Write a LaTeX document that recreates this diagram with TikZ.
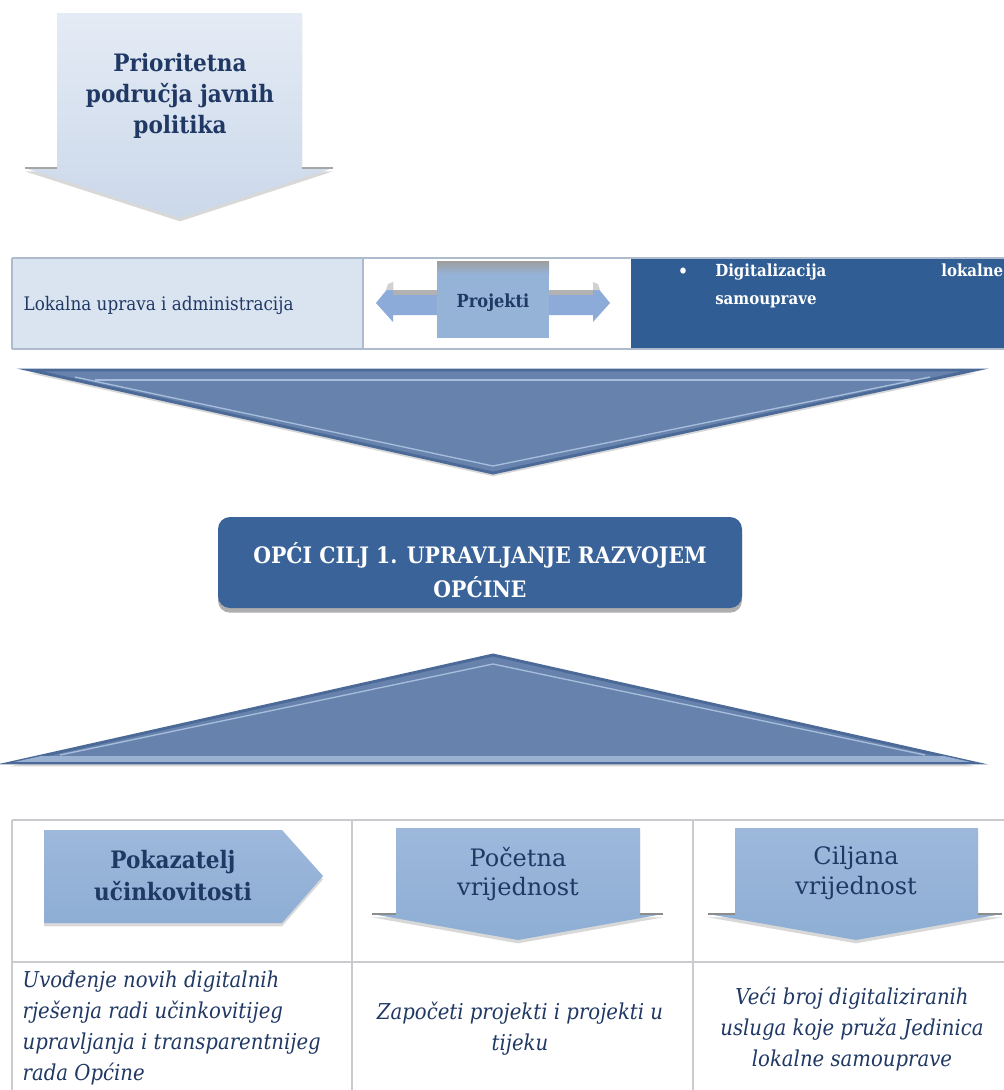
\documentclass[tikz,border=0pt]{standalone}
\usepackage{fontspec}
\setmainfont{DejaVu Serif}[FakeStretch=0.9]
\newfontfamily\widefont{DejaVu Serif}
\usetikzlibrary{shadows}
\definecolor{navy}{HTML}{203864}
\definecolor{paletop}{HTML}{E4EBF5}
\definecolor{palebot}{HTML}{CBD8EA}
\definecolor{bandleft}{HTML}{DAE4F0}
\definecolor{cellblue}{HTML}{305D93}
\definecolor{projbox}{HTML}{95B3D7}
\definecolor{projarrow}{HTML}{8DABD8}
\definecolor{chevfill}{HTML}{6782AC}
\definecolor{chevedge}{HTML}{4B6A97}
\definecolor{chevlight}{HTML}{A7BDDC}
\definecolor{goalblue}{HTML}{3A6399}
\definecolor{hdrtop}{HTML}{9DB8DB}
\definecolor{hdrbot}{HTML}{8EAED4}
\definecolor{tline}{HTML}{C9CBCE}
\definecolor{bandline}{HTML}{AEBBCC}
\tikzset{
  softshadow/.style={drop shadow={opacity=0.25, shadow xshift=0pt, shadow yshift=-2.5pt, fill=black!60}},
  hdrarrow/.style={top color=hdrtop, bottom color=hdrbot, softshadow},
  chev/.style={fill=chevfill, draw=chevedge, line width=2.2pt, line join=miter, softshadow},
  tabline/.style={draw=tline, line width=1.1pt},
  hdrtext/.style={text=navy, align=center, font=\fontsize{18}{24}\selectfont},
  bodytext/.style={text=navy, font=\fontsize{16.4}{23.2}\selectfont\itshape},
}
\begin{document}
\begin{tikzpicture}[x=0.75pt,y=-0.75pt]
\useasboundingbox (0,0) rectangle (1004,1090);
\fill[white] (0,0) rectangle (1004,1090);

% ---------- top arrow ----------
\path[top color=paletop, bottom color=palebot, softshadow]
  (57,13) -- (302,13) -- (302,168) -- (333,168) -- (180,218) -- (25,168) -- (57,168) -- cycle;
\draw[black!35, line width=1.5pt] (25,168) -- (57,168);
\draw[black!35, line width=1.5pt] (302,168) -- (333,168);
\node[text=navy, align=center, font=\fontsize{18}{23}\selectfont\bfseries] (prio) at (180,96)
  {Prioritetna\\područja javnih\\politika};

% ---------- band ----------
\fill[bandleft] (12,258) rectangle (363,349);
\fill[cellblue] (631,258) rectangle (1004,349);
\draw[bandline, line width=1.6pt] (12,258) -- (1004,258);
\draw[bandline, line width=1.6pt] (12,349) -- (1004,349);
\draw[bandline, line width=1pt] (12,258) -- (12,349);
\draw[bandline, line width=1pt] (363,258) -- (363,349);
\node[text=navy, anchor=west, font=\fontsize{14}{17}\selectfont] (lok) at (19,305)
  {Lokalna uprava i administracija};

% projekti double arrow
\fill[projarrow] (376,303) -- (393,282) -- (393,290) -- (437,290) -- (437,315) -- (393,315) -- (393,322) -- cycle;
\fill[projarrow] (610,303) -- (593,282) -- (593,290) -- (549,290) -- (549,315) -- (593,315) -- (593,322) -- cycle;
\fill[black!30] (393,290) rectangle (437,295);
\fill[black!30] (549,290) rectangle (593,295);
\fill[black!18] (388,284) -- (393,282) -- (393,290) -- (386,290) -- cycle;
\fill[black!18] (598,284) -- (593,282) -- (593,290) -- (600,290) -- cycle;
\fill[projbox] (437,261) rectangle (549,338);
\shade[top color=black!38, bottom color=projbox] (437,261) rectangle (549,274);
\node[text=navy, font=\fontsize{13.5}{16}\selectfont\bfseries] (proj) at (493,303) {Projekti};

% right cell
\node[text=white, font=\fontsize{13}{16}\selectfont\bfseries] (bul) at (683,273) {•};
\node[text=white, anchor=north west, inner sep=0pt, font=\fontsize{12.5}{21}\selectfont\bfseries] (digi) at (715,264)
  {\parbox{216pt}{\hspace{0pt}Digitalizacija lokalne\linebreak samouprave}};

% ---------- chevron down ----------
\path[chev] (30,370) -- (975,370) -- (493,473) -- cycle;
\draw[chevlight, line width=1pt] (95,380) -- (910,380);
\draw[chevlight, line width=1pt] (75,377) -- (493,466) -- (930,377);

% ---------- goal box ----------
\path[fill=goalblue, rounded corners=9pt, drop shadow={opacity=0.45, shadow xshift=0pt, shadow yshift=-3.5pt, fill=black!70}]
  (218,517) rectangle (742,608);
\node[text=white, align=center, font=\fontsize{17}{25}\selectfont\bfseries] (goal) at (480,570)
  {OPĆI CILJ 1. UPRAVLJANJE RAZVOJEM\\OPĆINE};

% ---------- triangle up ----------
\path[chev] (10,763) -- (493,655) -- (975,763) -- cycle;
\draw[chevlight, line width=1pt] (60,755) -- (493,664) -- (925,755);
\begin{scope}
  \clip (10,763) -- (493,655) -- (975,763) -- cycle;
  \fill[chevlight!80!chevfill] (0,756) rectangle (1004,762);
\end{scope}

% ---------- table ----------
\draw[tabline] (12,820) -- (1004,820);
\draw[tabline] (12,962) -- (1004,962);
\draw[tabline] (12,820) -- (12,1090);
\draw[tabline] (352,820) -- (352,1090);
\draw[tabline] (693,820) -- (693,1090);

% header shapes
\path[hdrarrow] (44,830) -- (282,830) -- (323,876) -- (282,923) -- (44,923) -- cycle;
\path[hdrarrow] (396,828) -- (640,828) -- (640,914) -- (663,914) -- (518,940) -- (372,914) -- (396,914) -- cycle;
\path[hdrarrow] (735,828) -- (978,828) -- (978,914) -- (1002,914) -- (856,940) -- (708,914) -- (735,914) -- cycle;
\draw[black!45, line width=1.2pt] (372,914) -- (396,914) (640,914) -- (663,914);
\draw[black!45, line width=1.2pt] (708,914) -- (735,914) (978,914) -- (1002,914);

\node[hdrtext, font=\fontsize{18}{24}\selectfont\bfseries] (pok) at (173,876) {Pokazatelj\\učinkovitosti};
\node[hdrtext, font=\fontsize{18}{22}\selectfont\widefont] (poc) at (518,874) {Početna\\vrijednost};
\node[hdrtext, font=\fontsize{18}{22}\selectfont\widefont] (cil) at (856,873) {Ciljana\\vrijednost};

% body texts
\node[bodytext, anchor=west, align=left] (t1) at (18,1028)
  {Uvođenje novih digitalnih\\rješenja radi učinkovitijeg\\upravljanja i transparentnijeg\\rada Općine};
\node[bodytext, align=center] (t2) at (520,1029)
  {Započeti projekti i projekti u\\tijeku};
\node[bodytext, align=center] (t3) at (852,1029)
  {Veći broj digitaliziranih\\usluga koje pruža Jedinica\\lokalne samouprave};
\end{tikzpicture}
\end{document}
